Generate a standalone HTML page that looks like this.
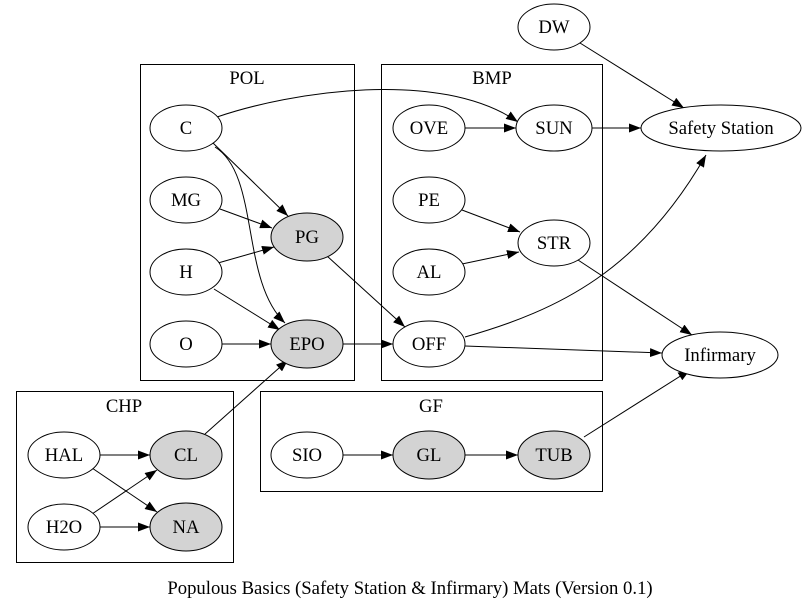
<!DOCTYPE html>
<html><head><meta charset="utf-8"><style>
html,body{margin:0;padding:0;background:#fff;width:807px;height:609px;overflow:hidden}
text{font-family:"Liberation Serif",serif;font-size:18.7px;fill:#000}
</style></head><body>
<svg width="807" height="609" viewBox="0 0 807 609" xmlns="http://www.w3.org/2000/svg">
<defs><marker id="a" viewBox="0 0 12 9" refX="12" refY="4.5" markerWidth="12" markerHeight="9" markerUnits="userSpaceOnUse" orient="auto"><path d="M0,0L12,4.5L0,9z" fill="#000"/></marker></defs>
<g fill="none" stroke="#000" stroke-width="1">
<rect x="140.5" y="64.5" width="214" height="316"/>
<rect x="381.5" y="64.5" width="221" height="316"/>
<rect x="16.5" y="391.5" width="217" height="171"/>
<rect x="260.5" y="391.5" width="342" height="100"/>
</g>
<g text-anchor="middle">
<text x="247" y="84">POL</text><text x="492" y="84">BMP</text>
<text x="124" y="412">CHP</text><text x="431" y="412">GF</text>
</g>
<g fill="none" stroke="#000" marker-end="url(#a)">
<path d="M580,43L684,108"/>
<path d="M217,117C290,92 440,68 518,122"/>
<path d="M465,128L516,128"/>
<path d="M592,128L641,128"/>
<path d="M213,143L288,216"/>
<path d="M215,147C260,175 240,280 285,323"/>
<path d="M220,209L272,228"/>
<path d="M218,263L274,247"/>
<path d="M214,289L280,330"/>
<path d="M222,344L271,344"/>
<path d="M327,256L405,327"/>
<path d="M343,344L393,344"/>
<path d="M462,210L520,232"/>
<path d="M462,264L519,252"/>
<path d="M578,260L692,335"/>
<path d="M465,337C560,310 640,270 706,155"/>
<path d="M465,346L662,353"/>
<path d="M205,434L288,360"/>
<path d="M100,455L150,455"/>
<path d="M92,468L157,512"/>
<path d="M92,514L157,470"/>
<path d="M100,527L150,527"/>
<path d="M343,455L393,455"/>
<path d="M465,455L518,455"/>
<path d="M584,437L690,370"/>
</g>
<g stroke="#000" fill="#fff">
<ellipse cx="554" cy="27" rx="36" ry="23"/>
<ellipse cx="721" cy="128" rx="80" ry="23"/>
<ellipse cx="186" cy="128" rx="36" ry="23"/>
<ellipse cx="186" cy="200" rx="36" ry="23"/>
<ellipse cx="186" cy="272" rx="36" ry="23"/>
<ellipse cx="186" cy="344" rx="36" ry="23"/>
<ellipse cx="307" cy="237" rx="36" ry="24" fill="#d3d3d3"/>
<ellipse cx="307" cy="344" rx="36" ry="24" fill="#d3d3d3"/>
<ellipse cx="429" cy="128" rx="36" ry="23"/>
<ellipse cx="554" cy="128" rx="38" ry="23"/>
<ellipse cx="429" cy="200" rx="36" ry="23"/>
<ellipse cx="554" cy="243" rx="36" ry="23"/>
<ellipse cx="429" cy="272" rx="36" ry="23"/>
<ellipse cx="429" cy="344" rx="36" ry="23"/>
<ellipse cx="720" cy="355" rx="58" ry="23"/>
<ellipse cx="64" cy="455" rx="36" ry="23"/>
<ellipse cx="186" cy="455" rx="36" ry="24" fill="#d3d3d3"/>
<ellipse cx="64" cy="527" rx="36" ry="23"/>
<ellipse cx="186" cy="527" rx="36" ry="24" fill="#d3d3d3"/>
<ellipse cx="307" cy="455" rx="36" ry="23"/>
<ellipse cx="429" cy="455" rx="36" ry="24" fill="#d3d3d3"/>
<ellipse cx="554" cy="455" rx="36" ry="24" fill="#d3d3d3"/>
</g>
<g text-anchor="middle">
<text x="554" y="33">DW</text>
<text x="721" y="134">Safety Station</text>
<text x="186" y="134">C</text>
<text x="186" y="206">MG</text>
<text x="186" y="278">H</text>
<text x="186" y="350">O</text>
<text x="307" y="243">PG</text>
<text x="307" y="350">EPO</text>
<text x="429" y="134">OVE</text>
<text x="554" y="134">SUN</text>
<text x="429" y="206">PE</text>
<text x="554" y="249">STR</text>
<text x="429" y="278">AL</text>
<text x="429" y="350">OFF</text>
<text x="720" y="361">Infirmary</text>
<text x="64" y="461">HAL</text>
<text x="186" y="461">CL</text>
<text x="64" y="533">H2O</text>
<text x="186" y="533">NA</text>
<text x="307" y="461">SIO</text>
<text x="429" y="461">GL</text>
<text x="554" y="461">TUB</text>
<text x="410" y="594">Populous Basics (Safety Station &amp; Infirmary) Mats (Version 0.1)</text>
</g>
</svg>
</body></html>
